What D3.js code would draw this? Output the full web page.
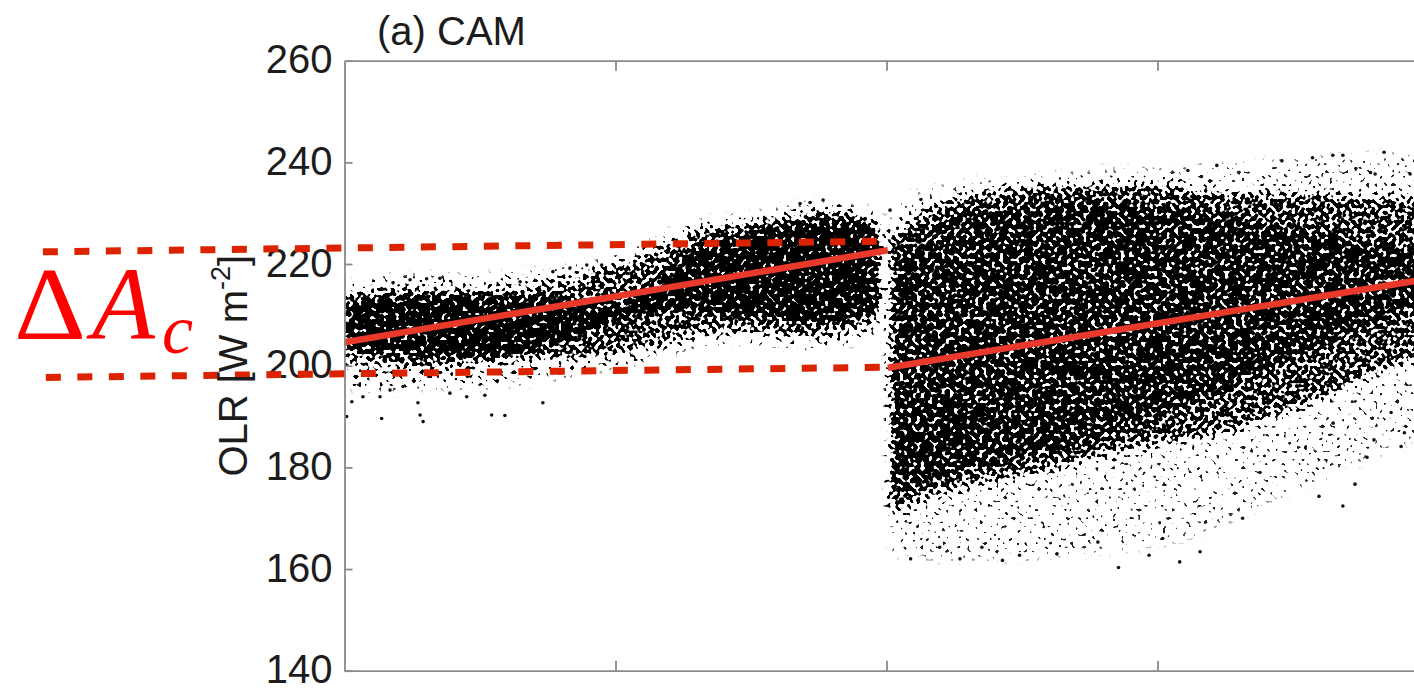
<!DOCTYPE html>
<html>
<head>
<meta charset="utf-8">
<script src="https://cdn.jsdelivr.net/npm/d3@7.9.0/dist/d3.min.js"></script>
<style>
  html, body { margin: 0; padding: 0; background: #fff; overflow: hidden; }
  svg { display: block; }
  .axis path, .axis line { stroke: #8a8a8a; stroke-width: 1.8; }
  .axis text { font-family: "Liberation Sans", Arial, sans-serif; font-size: 40px; fill: #1c1c1c; }
</style>
</head>
<body>
<svg id="chart" width="1414" height="689"></svg>
<script>
// axis ticks
const yTicks = [140, 160, 180, 200, 220, 240, 260];
const xTicks = [1, 2, 3];

// point cloud envelopes (x in axis units, OLR in W m-2)
// left cluster
const leftU      = [0, 0.1, 0.2, 0.3, 0.4, 0.5, 0.6, 0.7, 0.8, 0.9, 1.0, 1.1, 1.2, 1.3, 1.4, 1.5, 1.6, 1.7, 1.8, 1.9, 1.975];
const leftHaloLo = [196, 195.5, 195.5, 196, 196, 196, 196.5, 197, 198, 199, 200, 201, 202.5, 204, 204.5, 204.5, 204, 203.5, 204, 205, 207];
const leftHaloHi = [216, 217, 217.5, 217.5, 217.5, 217.5, 218, 218.5, 219, 220, 221.5, 223.5, 226, 228, 229, 229.5, 230.5, 231.5, 231.5, 231, 229.5];
const leftMidLo  = [201.5, 200.5, 200, 200, 200, 200.5, 201, 201.5, 201.5, 202, 202.5, 203.5, 205, 206.5, 207, 207, 206.5, 206, 206.5, 207.5, 209];
const leftMidHi  = [213.5, 214.5, 215, 215, 215, 215, 215, 215.5, 216.5, 218, 219.5, 221.5, 224, 226.5, 227.5, 228, 229, 230, 230.5, 229.5, 228];
const leftCoreLo = [203.5, 203, 202.5, 202, 202, 202, 202.5, 203.5, 205, 207, 209, 210.5, 211, 211, 210.5, 210, 209.5, 208.5, 209, 210, 211];
const leftCoreHi = [212, 213, 213.5, 213.5, 213.5, 213.5, 213, 213, 212.5, 212, 212, 214, 218, 222.5, 225, 226, 227, 228, 228.5, 228, 226.5];

// right cluster
const rightU      = [2.013, 2.1, 2.2, 2.3, 2.4, 2.5, 2.6, 2.7, 2.8, 2.9, 3.0, 3.1, 3.2, 3.3, 3.4, 3.5, 3.6, 3.7, 3.8, 3.9, 3.98];
const rightHaloLo = [163, 162.5, 162, 162, 162, 162, 162.5, 163, 163.5, 164, 165, 166, 168, 170.5, 173, 175.5, 177.5, 180, 182.5, 184.5, 186];
const rightHaloHi = [230, 233.5, 235, 236, 236.5, 237, 237.5, 238, 238.5, 238.5, 239, 239, 239.5, 239.5, 240, 240.5, 241, 241, 241.5, 241.5, 241.5];
const rightMidLo  = [171, 173, 175, 176.5, 177.5, 178.5, 179.5, 181, 182.5, 183.5, 184.5, 185.5, 186.5, 188, 189.5, 191.5, 193.5, 196, 198.5, 200.5, 201.5];
const rightMidHi  = [226, 229, 232, 233.5, 234.5, 235, 235.5, 235.5, 235.5, 235.5, 235.5, 235, 234.5, 234, 234, 234, 234, 233.5, 233, 233, 232.5];
const rightCoreLo = [175, 176.5, 178, 179.5, 181, 182, 183, 184.5, 186, 188, 190, 192, 194, 196.5, 199, 201.5, 204, 206.5, 209, 211, 212];
const rightCoreHi = [222, 225, 228, 230, 231, 232, 232.5, 232.5, 232.5, 232, 231.5, 231, 230, 229, 228, 227, 226, 225, 224, 223, 222];

// isolated points
const outlierU   = [0.027, 0.068, 0.131, 0.008, 0.137, 0.271, 0.29, 0.279, 0.543, 0.592, 0.732, 0.451, 0.518, 0.389, 0.216, 0.168,
                    0.242, 0.303, 0.352, 0.179, 0.137, 0.648, 0.769, 0.832, 0.894, 0.949, 1.681, 1.718, 1.766,
                    2.089, 2.196, 2.271, 2.352, 2.428, 2.491, 2.629, 2.856, 2.969, 3.082, 3.157, 3.019, 2.780, 3.314,
                    3.684, 3.596, 3.729, 3.773, 3.899, 3.799, 3.648, 3.862, 3.911,
                    3.836, 3.684, 3.219, 3.112, 3.459, 3.572, 3.786, 2.013, 2.127, 3.647, 3.803, 3.932];
const outlierOLR = [192.9, 193.9, 193.9, 190.0, 189.6, 192.7, 189.0, 190.3, 190.3, 190.2, 192.7, 193.9, 194.2, 194.6, 195.9, 195.2,
                    216.9, 217.1, 217.2, 216.3, 215.2, 216.5, 218.5, 219.2, 219.8, 219.8, 231.9, 232.1, 232.6,
                    162.0, 164.3, 162.0, 164.3, 161.7, 162.7, 163.0, 160.3, 162.7, 161.4, 163.4, 166.0, 165.3, 170.0,
                    172.4, 174.3, 176.7, 182.0, 184.1, 185.4, 188.7, 190.8, 186.8,
                    242.0, 241.4, 239.4, 238.4, 240.3, 240.9, 238.0, 230.6, 232.7, 241.4, 237.7, 237.7];

// regression lines and the Delta A_c band
const fitLeftU   = [0, 2.005],     fitLeftOLR  = [204.6, 222.7];
const fitRightU  = [2.005, 4],     fitRightOLR = [199.6, 217.1];
const bandTopU   = [-1.113, 2.005], bandTopOLR = [222.4, 224.5];
const bandBotU   = [-1.102, 2.005], bandBotOLR = [197.7, 199.7];

const W = 1414, H = 689;
const svg = d3.select('#chart');

let x = d3.scaleLinear().domain([0, 4]).range([344.5, 1428.5]);
let y = d3.scaleLinear().domain([140, 260]).range([670.7, 60.7]);

let defs = svg.append('defs');
defs.append('clipPath').attr('id', 'plot')
  .append('rect')
  .attr('x', x(0)).attr('y', y(260))
  .attr('width', x(4) - x(0)).attr('height', y(140) - y(260));

// dotted texture for the cloud: density thresholded against a noise field
let f = defs.append('filter').attr('id', 'stipple')
  .attr('filterUnits', 'userSpaceOnUse')
  .attr('x', 0).attr('y', 0).attr('width', W).attr('height', H)
  .attr('color-interpolation-filters', 'sRGB');
f.append('feGaussianBlur').attr('in', 'SourceAlpha').attr('stdDeviation', 4).attr('result', 'dens');
f.append('feTurbulence').attr('type', 'fractalNoise').attr('baseFrequency', 0.24)
  .attr('numOctaves', 1).attr('seed', 7).attr('result', 'noise');
f.append('feColorMatrix').attr('in', 'noise').attr('type', 'matrix')
  .attr('values', '0 0 0 0 0  0 0 0 0 0  0 0 0 0 0  2.6 0 0 0 -0.8').attr('result', 'na');
f.append('feComposite').attr('in', 'dens').attr('in2', 'na').attr('operator', 'arithmetic')
  .attr('k1', 0).attr('k2', 1).attr('k3', -1).attr('k4', 0).attr('result', 'diff');
f.append('feComponentTransfer').attr('in', 'diff')
  .append('feFuncA').attr('type', 'linear').attr('slope', 8).attr('intercept', 0);

let area = d3.area()
  .x(d => x(d.u))
  .y0(d => y(d.lo))
  .y1(d => y(d.hi))
  .curve(d3.curveMonotoneX);

function band(us, lo, hi) {
  return us.map((u, i) => ({ u: u, lo: lo[i], hi: hi[i] }));
}

let layers = [
  { data: band(leftU, leftHaloLo, leftHaloHi), a: 0.2 },
  { data: band(leftU, leftMidLo, leftMidHi), a: 0.55 },
  { data: band(leftU, leftCoreLo, leftCoreHi), a: 0.85 },
  { data: band(rightU, rightHaloLo, rightHaloHi), a: 0.11 },
  { data: band(rightU, rightMidLo, rightMidHi), a: 0.62 },
  { data: band(rightU, rightCoreLo, rightCoreHi), a: 0.5 }
];

let plot = svg.append('g').attr('clip-path', 'url(#plot)');

plot.append('g').attr('filter', 'url(#stipple)')
  .selectAll('path')
  .data(layers)
  .join('path')
  .attr('d', d => area(d.data))
  .attr('fill', '#000')
  .attr('fill-opacity', d => d.a);

plot.append('g')
  .selectAll('circle')
  .data(outlierU.map((u, i) => ({ u: u, v: outlierOLR[i] })))
  .join('circle')
  .attr('cx', d => x(d.u))
  .attr('cy', d => y(d.v))
  .attr('r', 1.8)
  .attr('fill', '#111');

// frame and ticks
let left = svg.append('g').attr('class', 'axis')
  .attr('transform', `translate(${x(0)},0)`)
  .call(d3.axisLeft(y).tickValues(yTicks).tickSizeInner(-8).tickSizeOuter(0).tickPadding(12));
svg.append('g').attr('class', 'axis')
  .attr('transform', `translate(${x(4)},0)`)
  .call(d3.axisRight(y).tickValues(yTicks).tickSizeInner(-8).tickSizeOuter(0).tickFormat(''));
svg.append('g').attr('class', 'axis')
  .attr('transform', `translate(0,${y(140)})`)
  .call(d3.axisBottom(x).tickValues(xTicks).tickSizeInner(-10).tickSizeOuter(0).tickFormat(''));
svg.append('g').attr('class', 'axis')
  .attr('transform', `translate(0,${y(260)})`)
  .call(d3.axisTop(x).tickValues(xTicks).tickSizeInner(-10).tickSizeOuter(0).tickFormat(''));
left.selectAll('text').attr('dy', '0.3em');

// regression lines
let line = d3.line().x(d => x(d[0])).y(d => y(d[1]));
plot.selectAll('path.fit')
  .data([d3.zip(fitLeftU, fitLeftOLR), d3.zip(fitRightU, fitRightOLR)])
  .join('path')
  .attr('class', 'fit')
  .attr('d', line)
  .attr('fill', 'none')
  .attr('stroke', '#e8392b')
  .attr('stroke-width', 6.5);

// dashed band lines
svg.selectAll('path.bandline')
  .data([d3.zip(bandTopU, bandTopOLR), d3.zip(bandBotU, bandBotOLR)])
  .join('path')
  .attr('class', 'bandline')
  .attr('d', line)
  .attr('fill', 'none')
  .attr('stroke', '#dc2300')
  .attr('stroke-width', 7)
  .attr('stroke-dasharray', '15 16.5');

// texts
svg.append('text')
  .attr('x', 377).attr('y', 45)
  .style('font-family', '"Liberation Sans", Arial, sans-serif')
  .style('font-size', '40px')
  .attr('fill', '#1c1c1c')
  .text('(a) CAM');

let ylab = svg.append('text')
  .attr('transform', `translate(247,${(y(140) + y(260)) / 2}) rotate(-90)`)
  .attr('text-anchor', 'middle')
  .style('font-family', '"Liberation Sans", Arial, sans-serif')
  .style('font-size', '40px')
  .attr('fill', '#1c1c1c');
ylab.append('tspan').text('OLR [W m');
ylab.append('tspan').attr('dy', -17).style('font-size', '27px').text('-2');
ylab.append('tspan').attr('dy', 17).text(']');

let dA = svg.append('text')
  .attr('y', 339)
  .attr('fill', '#ff0000')
  .style('font-family', '"Liberation Serif", "Times New Roman", serif');
dA.append('tspan').attr('x', 14).style('font-size', '103px')
  .attr('textLength', 72).attr('lengthAdjust', 'spacingAndGlyphs').text('Δ');
dA.append('tspan').attr('x', 92).style('font-size', '103px').style('font-style', 'italic').text('A');
dA.append('tspan').attr('x', 162).attr('dy', 14).style('font-size', '70px').style('font-style', 'italic').text('c');
</script>
</body>
</html>
